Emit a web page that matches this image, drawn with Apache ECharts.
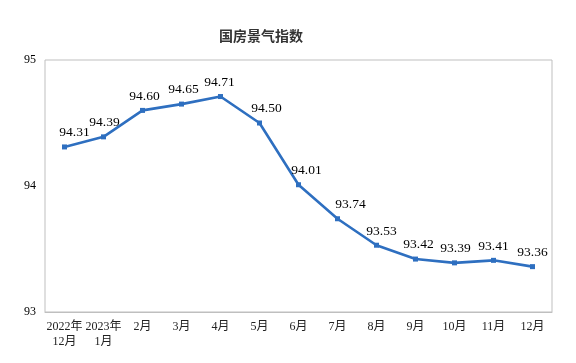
<!DOCTYPE html>
<html>
<head>
<meta charset="utf-8">
<script src="https://cdn.jsdelivr.net/npm/echarts@6/dist/echarts.min.js"></script>
<style>html,body{margin:0;padding:0;background:#fff}#c{width:576px;height:363px}</style>
</head>
<body>
<div id="c"></div>
<script>
var categories = ['2022年\n12月','2023年\n1月','2月','3月','4月','5月','6月','7月','8月','9月','10月','11月','12月'];
var values = [94.31, 94.39, 94.60, 94.65, 94.71, 94.50, 94.01, 93.74, 93.53, 93.42, 93.39, 93.41, 93.36];
var yTicks = [93, 94, 95];
var labelDx = [10, 1, 2, 2, -1, 7, 8, 13, 5, 3, 1, 0, 0];

var chart = echarts.init(document.getElementById('c'));
var serif = '"Liberation Serif", "Times New Roman", "Noto Sans CJK SC", serif';
chart.setOption({
  animation: false,
  title: {
    text: '国房景气指数',
    left: 214, top: 24,
    textStyle: {fontFamily: '"Noto Sans CJK SC", sans-serif', fontSize: 14, fontWeight: 'bold', color: '#333'}
  },
  grid: {left: 45, right: 24, top: 60, bottom: 51, show: true, borderColor: '#bfbfbf', borderWidth: 1},
  xAxis: {
    type: 'category',
    data: categories,
    boundaryGap: true,
    axisLine: {lineStyle: {color: '#bfbfbf', width: 1}},
    axisTick: {inside: true, length: 5, lineStyle: {color: '#bfbfbf'}},
    axisLabel: {fontFamily: serif, fontSize: 12, color: '#222', lineHeight: 15, margin: 7, interval: 0}
  },
  yAxis: {
    type: 'value',
    min: yTicks[0], max: yTicks[yTicks.length - 1], interval: 1,
    axisLine: {show: false},
    axisTick: {show: false},
    splitLine: {show: false},
    axisLabel: {fontFamily: serif, fontSize: 12, color: '#000', margin: 9}
  },
  series: [{
    type: 'line',
    data: values.map(function (v, i) {
      return {value: v, label: {offset: [labelDx[i], 0]}};
    }),
    symbol: 'rect',
    symbolSize: 5,
    lineStyle: {color: '#2e6fc0', width: 2.6},
    itemStyle: {color: '#2e6fc0'},
    label: {
      show: true, position: 'top', distance: 5,
      fontFamily: serif, fontSize: 13.5, color: '#000',
      formatter: function (p) { return p.value.toFixed(2); }
    }
  }]
});
</script>
</body>
</html>
